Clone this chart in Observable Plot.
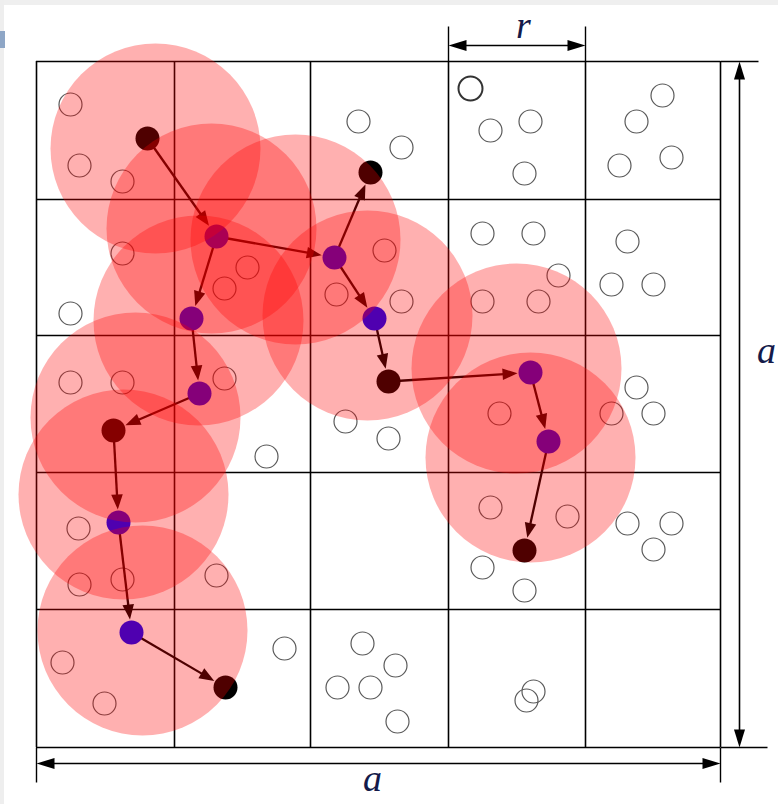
<!DOCTYPE html>
<html><head><meta charset="utf-8">
<script src="https://cdn.jsdelivr.net/npm/d3@7"></script>
<script src="https://cdn.jsdelivr.net/npm/@observablehq/plot@0.6"></script>
<style>
html,body{margin:0;padding:0;background:#fff;}
#wrap{position:relative;width:778px;height:804px;overflow:hidden;background:#fff;}
#chart{position:absolute;left:0;top:0;}
#topband{position:absolute;left:0;top:0;width:778px;height:5px;background:#efefef;}
#leftband{position:absolute;left:0;top:0;width:4px;height:804px;background:#eeeeee;}
#tab{position:absolute;left:0;top:31px;width:5px;height:17px;background:#8ea6c6;}
</style></head>
<body><div id="wrap"><div id="chart"></div><div id="topband"></div><div id="leftband"></div><div id="tab"></div></div>
<script>
// ---- data (diagram units) ----
const gridX = [36, 174, 310, 448, 585, 720];
const gridY = [61, 199, 335, 472, 609, 747];

const particles = [
  [70,104],[79,165],[122,181],[358,121],[401,147],[490,130],[530,121],[524,173],
  [662,95],[636,121],[671,157],[619,165],
  [122,253],[70,313],[247,267],[224,288],[384,250],[336,294],[401,301],
  [482,233],[533,233],[558,275],[482,301],[538,301],[627,241],[611,284],[653,284],
  [70,382],[122,382],[224,378],[266,456],[345,421],[388,438],[499,413],
  [636,387],[611,413],[653,413],
  [78,528],[79,584],[122,579],[216,575],[490,507],[567,516],[482,567],[524,590],
  [627,523],[671,523],[653,549],
  [62,662],[104,703],[284,648],[362,643],[395,665],[337,687],[370,687],[397,721],
  [533,691],[526,700]
];
const boldParticles = [[470,88]];

const nodeNames = ["A","B","C","D","E","F","G","H","I","J","K","L","M","N","O"];
const nodeX = [147,216,334,370,374,191,199,113,388,530,548,524,118,131,225];
const nodeY = [138,236,257,172,318,318,393,430,381,372,441,550,522,632,687];
const nodeKind = ["end","mid","mid","end","mid","mid","mid","end","end","mid","mid","end","mid","mid","end"];

const steps = [["A","B"],["B","C"],["B","F"],["C","D"],["C","E"],["E","I"],["F","G"],
  ["G","H"],["H","M"],["M","N"],["N","O"],["I","J"],["J","K"],["K","L"]];

const zoneX = [155,211,295,198,367,135,123,142,516,530];
const zoneY = [148,228,239,320,315,417,494,630,368,457];

const extSegments = [
  [720,61,758,61],[720,747,767,747],[36,747,36,782],[720,747,720,782],
  [448,26,448,61],[585,26,585,61]
];
const dimSegments = [[36,763,720,763],[739,61,739,747],[448,45,585,45]];
const dimLabels = ["a","a","r"];
const dimLabelX = [372,766,523];
const dimLabelY = [790,362,37];

// ---- derived geometry ----
const W = 778, H = 804;
const nodes = nodeNames.map((id,i)=>({id, x:nodeX[i], y:nodeY[i], kind:nodeKind[i]}));
const byId = Object.fromEntries(nodes.map(n=>[n.id,n]));
const NODE_R = 12, HEAD_L = 15, HEAD_W = 5.8;

function head(tipX, tipY, ux, uy, len, hw, id){
  const bx = tipX - ux*len, by = tipY - uy*len;
  return [
    {id, x: tipX, y: tipY},
    {id, x: bx - uy*hw, y: by + ux*hw},
    {id, x: bx + uy*hw, y: by - ux*hw}
  ];
}

const shafts = [], heads = [];
steps.forEach(([s,t],k)=>{
  const a = byId[s], b = byId[t];
  const dx = b.x-a.x, dy = b.y-a.y, L = Math.hypot(dx,dy);
  const ux = dx/L, uy = dy/L;
  const tx = b.x - ux*(NODE_R+1), ty = b.y - uy*(NODE_R+1);
  shafts.push({x1:a.x, y1:a.y, x2: tx-ux*(HEAD_L-2), y2: ty-uy*(HEAD_L-2)});
  heads.push(...head(tx,ty,ux,uy,HEAD_L,HEAD_W,"s"+k));
});

const dimShafts = [], dimHeads = [];
dimSegments.forEach(([x1,y1,x2,y2],k)=>{
  const dx=x2-x1, dy=y2-y1, L=Math.hypot(dx,dy), ux=dx/L, uy=dy/L;
  const hl = 18;
  dimShafts.push({x1:x1+ux*(hl-2), y1:y1+uy*(hl-2), x2:x2-ux*(hl-2), y2:y2-uy*(hl-2)});
  dimHeads.push(...head(x2,y2,ux,uy,hl,5.5,"d"+k+"e"));
  dimHeads.push(...head(x1,y1,-ux,-uy,hl,5.5,"d"+k+"s"));
});

const zones = zoneX.map((x,i)=>({x, y:zoneY[i]}));
const labels = dimLabels.map((t,i)=>({t, x:dimLabelX[i], y:dimLabelY[i]}));

const chart = Plot.plot({
  width: W, height: H, margin: 0,
  x: {domain:[0,W], range:[0,W], axis:null},
  y: {domain:[0,H], range:[0,H], axis:null},
  style: {background:"transparent", overflow:"visible"},
  marks: [
    // grid
    Plot.ruleX(gridX, {x: d=>d, y1: gridY[0], y2: gridY[gridY.length-1], stroke:"#000", strokeWidth:1.6}),
    Plot.ruleY(gridY, {y: d=>d, x1: gridX[0], x2: gridX[gridX.length-1], stroke:"#000", strokeWidth:1.6}),
    Plot.link(extSegments, {x1:d=>d[0], y1:d=>d[1], x2:d=>d[2], y2:d=>d[3], stroke:"#000", strokeWidth:1.4}),
    // particles
    Plot.dot(particles, {x:d=>d[0], y:d=>d[1], r:11.5, stroke:"#5a5a5a", strokeWidth:1.2, fill:"none"}),
    Plot.dot(boldParticles, {x:d=>d[0], y:d=>d[1], r:12, stroke:"#333", strokeWidth:2, fill:"none"}),
    // path arrows
    Plot.link(shafts, {x1:"x1", y1:"y1", x2:"x2", y2:"y2", stroke:"#000", strokeWidth:2.3}),
    Plot.line(heads, {x:"x", y:"y", z:"id", fill:"#000", stroke:"none", curve:"linear-closed"}),
    // nodes
    Plot.dot(nodes.filter(n=>n.kind==="mid"), {x:"x", y:"y", r:NODE_R, fill:"#0000ff", stroke:"none"}),
    Plot.dot(nodes.filter(n=>n.kind==="end"), {x:"x", y:"y", r:NODE_R, fill:"#000", stroke:"none"}),
    // interaction zones
    Plot.dot(zones, {x:"x", y:"y", r:105, fill:"#ff0000", fillOpacity:0.31, stroke:"none"}),
    // dimensions
    Plot.link(dimShafts, {x1:"x1", y1:"y1", x2:"x2", y2:"y2", stroke:"#000", strokeWidth:1.6}),
    Plot.line(dimHeads, {x:"x", y:"y", z:"id", fill:"#000", stroke:"none", curve:"linear-closed"}),
    Plot.text(labels, {x:"x", y:"y", text:"t", fontSize:38, fontStyle:"italic",
      fontFamily:"'Liberation Serif', 'DejaVu Serif', serif", fill:"#141a4a", lineAnchor:"bottom"})
  ]
});
document.getElementById("chart").appendChild(chart);
</script>
</body></html>
